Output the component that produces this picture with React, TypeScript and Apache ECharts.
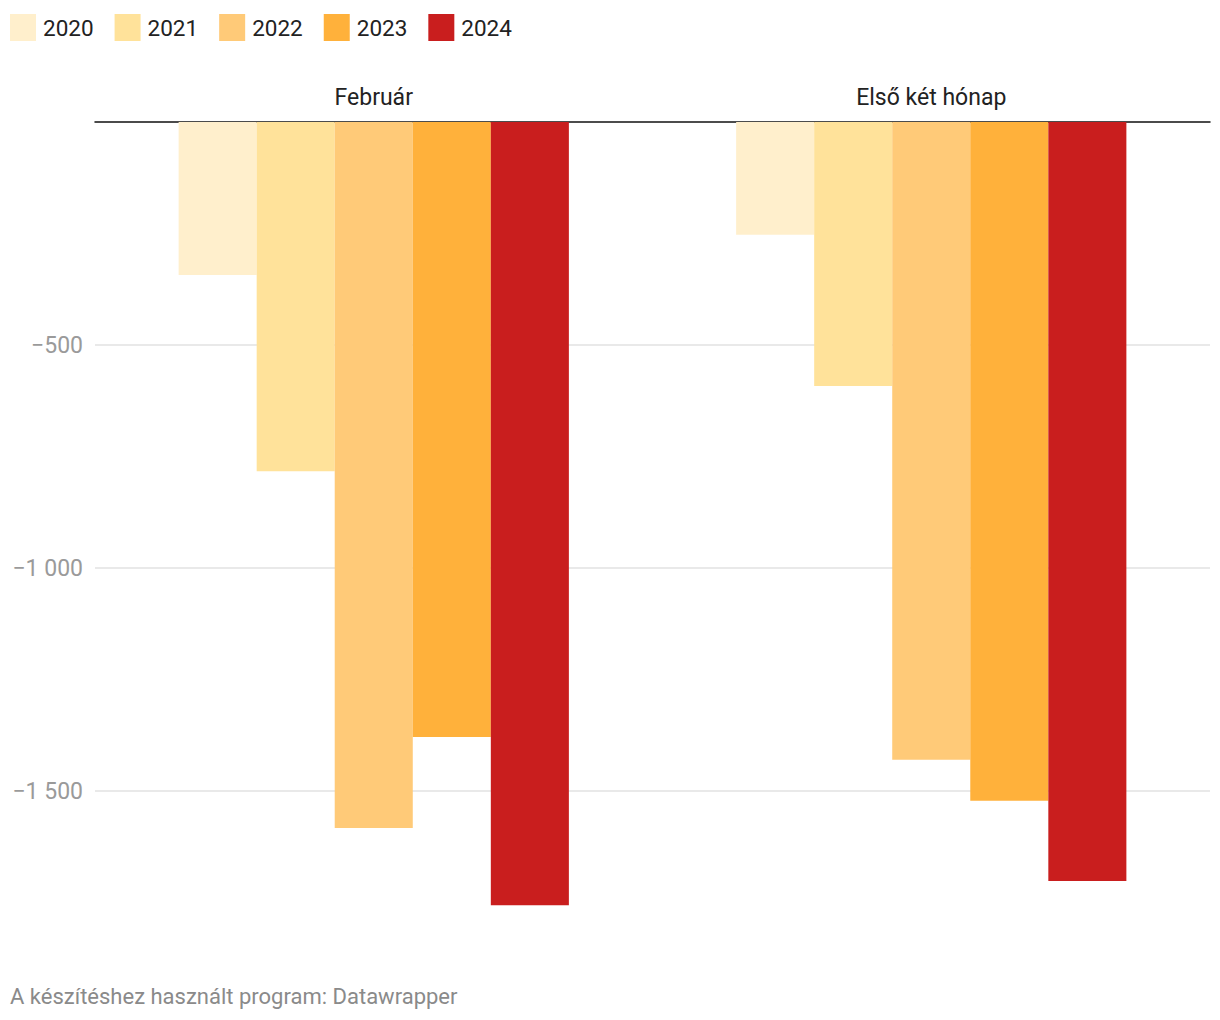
import React, { useEffect, useRef } from "react";
import * as echarts from "echarts";

const categories = ["Február", "Első két hónap"];
const years = ["2020", "2021", "2022", "2023", "2024"];
const colors = ["#ffefcc", "#ffe29a", "#ffca78", "#ffb13b", "#c91e1e"];
const values2020 = [-343, -253];
const values2021 = [-783, -592];
const values2022 = [-1583, -1430];
const values2023 = [-1379, -1522];
const values2024 = [-1756, -1702];
const seriesValues = [values2020, values2021, values2022, values2023, values2024];
const footer = "A készítéshez használt program: Datawrapper";

function fmt(v: number): string {
  if (v === 0 || v <= -2000) return "";
  const abs = Math.abs(v);
  const s = String(abs).replace(/\B(?=(\d{3})+(?!\d))/g, " ");
  return (v < 0 ? "−" : "") + s;
}

export default function App() {
  const ref = useRef<HTMLDivElement>(null);
  useEffect(() => {
    if (!ref.current) return;
    const chart = echarts.init(ref.current, undefined, { renderer: "svg" });
    chart.setOption({
      animation: false,
      textStyle: { fontFamily: "Roboto" },
      legend: {
        left: 10,
        top: 14,
        padding: 0,
        icon: "rect",
        itemWidth: 26,
        itemHeight: 27,
        itemGap: 21,
        textStyle: { fontSize: 22.5, color: "#222", fontFamily: "Roboto", padding: [0, 0, 0, 2] },
        data: years,
      },
      grid: { left: 95, right: 10, top: 122, height: 892 },
      xAxis: {
        type: "category",
        position: "top",
        data: categories,
        axisLine: { show: true, lineStyle: { color: "#111", width: 1.5 } },
        axisTick: { show: false },
        axisLabel: { fontSize: 23, color: "#222", margin: 13, fontFamily: "Roboto" },
        splitLine: { show: false },
      },
      yAxis: {
        type: "value",
        min: -2000,
        max: 0,
        interval: 500,
        axisLine: { show: false },
        axisTick: { show: false },
        axisLabel: {
          fontSize: 23,
          color: "#9a9a9a",
          margin: 12,
          fontFamily: "Roboto",
          formatter: (v: number) => fmt(v),
        },
        splitLine: {
          show: true,
          showMinLine: false,
          showMaxLine: false,
          lineStyle: { color: "#e2e2e2", width: 1.5 },
        },
      },
      series: years.map((y, i) => ({
        name: y,
        type: "bar",
        data: seriesValues[i],
        barGap: "0%",
        barCategoryGap: "30%",
        itemStyle: { color: colors[i] },
      })),
      graphic: [
        {
          type: "text",
          left: 10,
          top: 985,
          style: { text: footer, fontSize: 22, fill: "#8a8a8a", fontFamily: "Roboto" },
        },
      ],
    });
    return () => chart.dispose();
  }, []);
  return (
    <div
      ref={ref}
      style={{ position: "absolute", left: 0, top: 0, width: 1220, height: 1020, background: "#fff" }}
    />
  );
}
